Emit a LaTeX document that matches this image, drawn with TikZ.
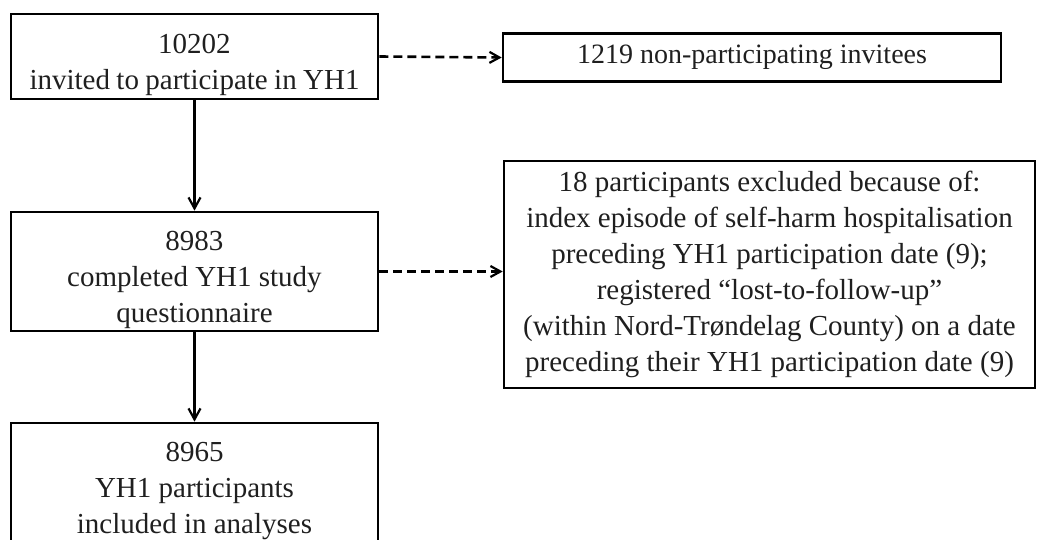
\documentclass[tikz,border=0pt]{standalone}
\usepackage{fontspec}
\setmainfont{Liberation Serif}
\usetikzlibrary{arrows.meta}
\begin{document}
\begin{tikzpicture}[x=1pt,y=-1pt,
  box/.style={draw=black,line width=2.6pt,align=center,inner sep=0pt,
    font=\fontsize{29}{36}\selectfont,text=black!88},
  solidarrow/.style={line width=2.6pt,-{Straight Barb[length=11pt,width=12pt,line width=2.2pt]}},
  dasharrow/.style={line width=2.6pt,dash pattern=on 9pt off 5pt,-{Straight Barb[length=10pt,width=11pt,line width=2.2pt]}}]
\clip (0,0) rectangle (1037,540);
\useasboundingbox (0,0) rectangle (1037,540);
\node[box,minimum width=367pt,minimum height=85pt] (b1) at (194.5,56.5)
  {\rule{0pt}{37pt}10202\\\makebox[330pt][s]{invited to participate in YH1}};
\node[box,minimum width=498pt,minimum height=48pt,font=\fontsize{28}{34}\selectfont] (b2) at (752,57.5)
  {1219 non-participating invitees};
\node[box,minimum width=367pt,minimum height=119pt] (b3) at (194.5,271.5)
  {\rule{0pt}{37pt}8983\\completed YH1 study\\questionnaire};
\node[box,minimum width=531pt,minimum height=227pt] (b4) at (769.5,274.5)
  {18 participants excluded because of:\\index episode of self-harm hospitalisation\\preceding YH1 participation date (9);\\registered “lost-to-follow-up”\\(within Nord-Trøndelag County) on a date\\preceding their YH1 participation date (9)};
\node[box,minimum width=367pt,minimum height=136pt] (b5) at (194.5,491)
  {8965\\YH1 participants\\included in analyses};
\draw[solidarrow] (b1.south) -- (b3.north);
\draw[solidarrow] (b3.south) -- (b5.north);
\draw[dasharrow] (b1.east) -- (b2.west);
\draw[dasharrow] (b3.east) -- (b3.east -| b4.west);
\end{tikzpicture}
\end{document}
